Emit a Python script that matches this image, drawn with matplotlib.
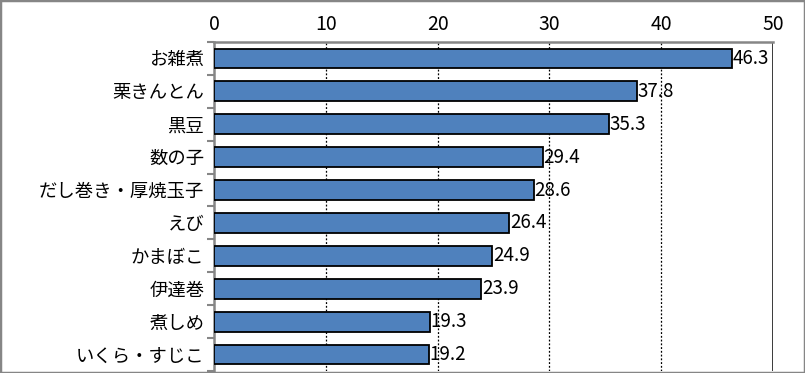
import matplotlib
matplotlib.use("Agg")
import matplotlib.pyplot as plt
import numpy as np
from matplotlib.patches import Rectangle

plt.rcParams['font.family'] = ['Noto Sans CJK JP', 'DejaVu Sans']

categories = ["お雑煮", "栗きんとん", "黒豆", "数の子", "だし巻き・厚焼玉子",
              "えび", "かまぼこ", "伊達巻", "煮しめ", "いくら・すじこ"]
values = [46.3, 37.8, 35.3, 29.4, 28.6, 26.4, 24.9, 23.9, 19.3, 19.2]
xticks = [0, 10, 20, 30, 40, 50]

W, H = 805, 373
fig = plt.figure(figsize=(W / 100, H / 100), dpi=100)
ax = fig.add_axes([214 / W, 1 - 371 / H, (773 - 214) / W, (371 - 42) / H])

n = len(categories)
y = np.arange(n)
ax.barh(y, values, height=0.6, color="#4F81BD", edgecolor="black", linewidth=1.3, zorder=3)
for yi, v in zip(y, values):
    ax.annotate(f"{v:.1f}", (v, yi), xytext=(0.5, 0), textcoords="offset points",
                va="center", ha="left", fontsize=13.5, zorder=4)

ax.set_xlim(0, 50)
ax.set_ylim(n - 0.5, -0.5)
ax.set_xticks(xticks)
ax.xaxis.tick_top()
ax.tick_params(axis="x", length=0, labelsize=14, pad=5)
for xv in xticks[1:-1]:
    ax.axvline(xv, color="black", linestyle=(0, (1.5, 1.5)), linewidth=0.9, zorder=1)
ax.axvline(xticks[-1], color="black", linewidth=1.8, zorder=1)

ax.set_yticks(y)
ax.set_yticklabels(categories)
ax.set_yticks(np.arange(n + 1) - 0.5, minor=True)
ax.tick_params(axis="y", which="major", length=0, labelsize=13.2, pad=7)
ax.tick_params(axis="y", which="minor", length=5, width=1.5, color="#868686", direction="out")

for s in ["right", "bottom"]:
    ax.spines[s].set_visible(False)
for s in ["left", "top"]:
    ax.spines[s].set_color("#868686")
    ax.spines[s].set_linewidth(1.8)

fig.patches.append(Rectangle((0, 0), 1, 1, transform=fig.transFigure, fill=False,
                             edgecolor="#868686", linewidth=2.5))

fig.savefig("out.png", dpi=100)
